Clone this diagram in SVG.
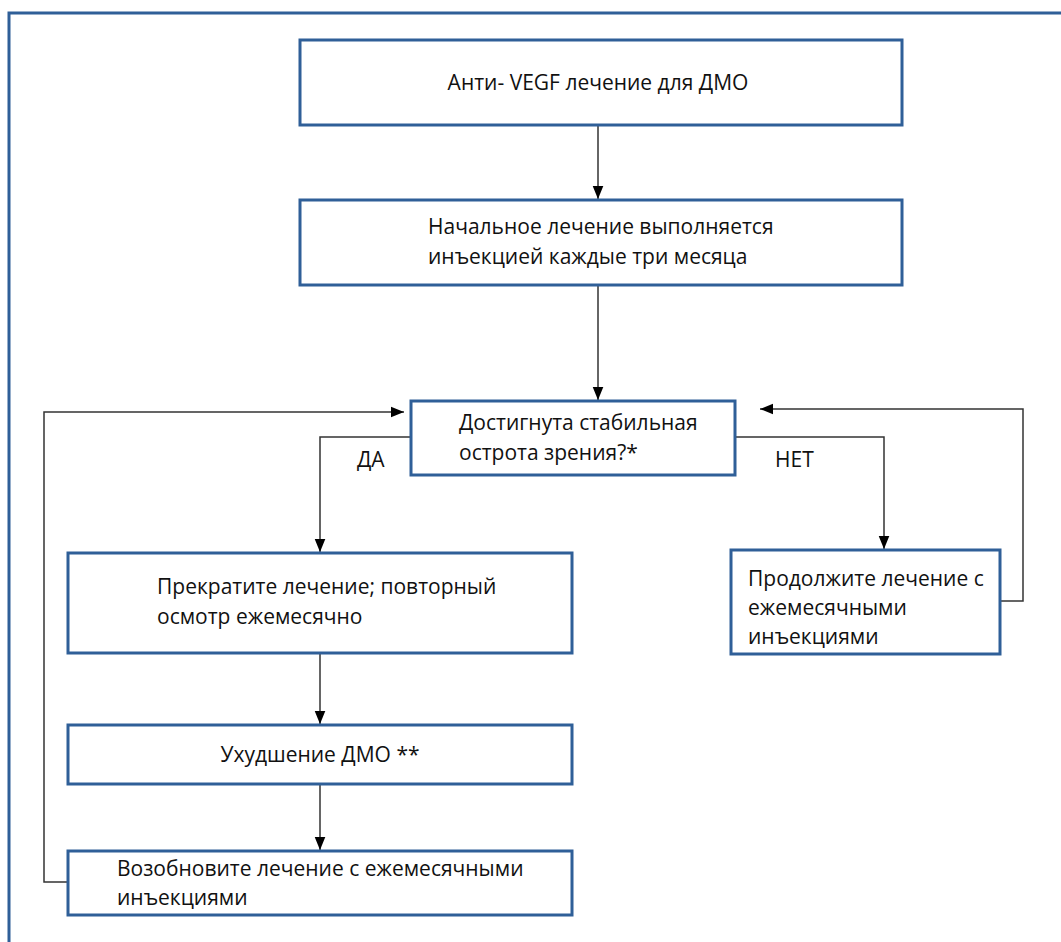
<svg xmlns="http://www.w3.org/2000/svg" width="1061" height="942" viewBox="0 0 1061 942">
<defs>
<marker id="arr" markerWidth="13" markerHeight="16" refX="16" refY="6.5" orient="auto" markerUnits="userSpaceOnUse" viewBox="0 0 16 13">
<path d="M0,0 L16,6.5 L0,13 Z" fill="#000"/>
</marker>
<style>
.box{fill:#fff;stroke:#2f5f98;stroke-width:3}
.frame{fill:none;stroke:#2f5f98;stroke-width:3}
.t{font-family:"Open Sans","Liberation Sans",sans-serif;font-size:21px;fill:#111}
.c{stroke:#333;stroke-width:1.5;fill:none}
</style>
</defs>
<rect width="1061" height="942" fill="#fff"/>
<rect class="frame" x="9" y="13" width="1070" height="950"/>
<g id="connectors">
<path class="c" d="M598,125 V199" marker-end="url(#arr)"/>
<path class="c" d="M598,285 V400" marker-end="url(#arr)"/>
<path class="c" d="M411,437 H320 V552" marker-end="url(#arr)"/>
<path class="c" d="M735,437 H884 V549" marker-end="url(#arr)"/>
<path class="c" d="M1000,601 H1023 V409 H760" marker-end="url(#arr)"/>
<path class="c" d="M68,882 H44 V412 H404" marker-end="url(#arr)"/>
<path class="c" d="M320,653 V724" marker-end="url(#arr)"/>
<path class="c" d="M320,784 V850" marker-end="url(#arr)"/>
<text class="t" x="357" y="467">ДА</text>
<text class="t" x="775" y="467">НЕТ</text>
</g>
<g id="n1">
<rect class="box" x="300" y="40" width="602" height="85"/>
<text class="t" x="598" y="90" text-anchor="middle">Анти- VEGF лечение для ДМО</text>
</g>
<g id="n2">
<rect class="box" x="300" y="200" width="602" height="85"/>
<text class="t" x="428" y="234">Начальное лечение выполняется</text>
<text class="t" x="428" y="264">инъекцией каждые три месяца</text>
</g>
<g id="n3">
<rect class="box" x="411" y="401" width="324" height="74"/>
<text class="t" x="459" y="430">Достигнута стабильная</text>
<text class="t" x="459" y="460">острота зрения?*</text>
</g>
<g id="n4">
<rect class="box" x="68" y="553" width="504" height="100"/>
<text class="t" x="157" y="594">Прекратите лечение; повторный</text>
<text class="t" x="157" y="624">осмотр ежемесячно</text>
</g>
<g id="n5">
<rect class="box" x="731" y="550" width="269" height="104"/>
<text class="t" x="748" y="586">Продолжите лечение с</text>
<text class="t" x="748" y="615">ежемесячными</text>
<text class="t" x="748" y="644">инъекциями</text>
</g>
<g id="n6">
<rect class="box" x="68" y="725" width="504" height="59"/>
<text class="t" x="320" y="762" text-anchor="middle">Ухудшение ДМО **</text>
</g>
<g id="n7">
<rect class="box" x="68" y="851" width="504" height="64"/>
<text class="t" x="117" y="876">Возобновите лечение с ежемесячными</text>
<text class="t" x="117" y="905">инъекциями</text>
</g>
</svg>
